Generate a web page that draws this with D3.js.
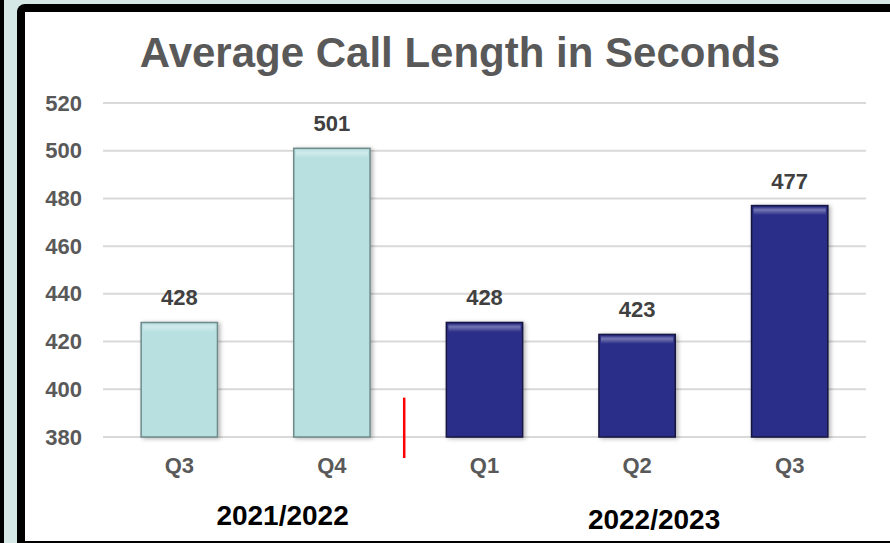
<!DOCTYPE html>
<html>
<head>
<meta charset="utf-8">
<script src="https://cdn.jsdelivr.net/npm/d3@7"></script>
<style>
  html, body { margin: 0; padding: 0; background: #d6e8e6; }
  svg { display: block; font-family: "Liberation Sans", Arial, sans-serif; }
</style>
</head>
<body>
<svg id="chart" width="890" height="543"></svg>
<script>
// chart values
var quarters = ['Q3', 'Q4', 'Q1', 'Q2', 'Q3']
var callSeconds = [428, 501, 428, 423, 477]
var quarterYear = ['2021/2022', '2021/2022', '2022/2023', '2022/2023', '2022/2023']
var years = ['2021/2022', '2022/2023']
var yTicks = [380, 400, 420, 440, 460, 480, 500, 520]

var svg = d3.select('#chart')
var W = 890
var H = 543

// frame: teal page, black strip at left, white panel with black border
svg.append('rect').attr('width', W).attr('height', H).attr('fill', '#d6e8e6')
svg.append('rect').attr('x', 0).attr('y', 0).attr('width', 4).attr('height', H).attr('fill', '#000')
svg.append('rect').attr('x', 17).attr('y', 4).attr('width', 900).attr('height', 560)
  .attr('rx', 8).attr('fill', '#000')
svg.append('rect').attr('x', 25).attr('y', 12).attr('width', 900).attr('height', 529)
  .attr('fill', '#fff')

var defs = svg.append('defs')
var shadow = defs.append('filter').attr('id', 'shadow')
  .attr('x', '-20%').attr('y', '-10%').attr('width', '140%').attr('height', '130%')
shadow.append('feDropShadow').attr('dx', 2).attr('dy', 1).attr('stdDeviation', 2)
  .attr('flood-color', '#000').attr('flood-opacity', 0.3)
var bevel = defs.append('linearGradient').attr('id', 'bevel')
  .attr('x1', 0).attr('y1', 0).attr('x2', 0).attr('y2', 1)
bevel.append('stop').attr('offset', '0%').attr('stop-color', '#fff').attr('stop-opacity', 0.05)
bevel.append('stop').attr('offset', '35%').attr('stop-color', '#fff').attr('stop-opacity', 0.35)
bevel.append('stop').attr('offset', '100%').attr('stop-color', '#fff').attr('stop-opacity', 0)

// plot area (names avoid window.top)
var plotLeft = 103
var plotRight = 866
var plotTop = 103
var plotBottom = 437

var x = d3.scaleBand().domain(d3.range(quarters.length))
  .range([plotLeft, plotRight]).paddingInner(0.5).paddingOuter(0.25)
var y = d3.scaleLinear().domain([380, 520]).range([plotBottom, plotTop])

// title
svg.append('text')
  .attr('x', 460).attr('y', 67)
  .attr('text-anchor', 'middle')
  .attr('font-size', 42).attr('font-weight', 'bold')
  .attr('fill', '#595959')
  .text('Average Call Length in Seconds')

// gridlines
svg.append('g').selectAll('line')
  .data(yTicks)
  .join('line')
  .attr('x1', plotLeft).attr('x2', plotRight)
  .attr('y1', (d) => y(d)).attr('y2', (d) => y(d))
  .attr('stroke', '#d9d9d9').attr('stroke-width', 2)

// y axis labels
var yAxis = d3.axisLeft(y).tickValues(yTicks).tickSize(0).tickPadding(21)
svg.append('g')
  .attr('transform', 'translate(' + plotLeft + ',0)')
  .call(yAxis)
  .call((g) => g.select('.domain').remove())
  .selectAll('text')
  .attr('font-family', '"Liberation Sans", Arial, sans-serif')
  .attr('font-size', 22).attr('font-weight', 'bold')
  .attr('fill', '#595959')

// bars
var fills = { '2021/2022': '#b9e0e1', '2022/2023': '#2c2e88' }
var strokes = { '2021/2022': '#6f8a8a', '2022/2023': '#15153f' }

var bars = svg.append('g').selectAll('g')
  .data(callSeconds)
  .join('g')

bars.append('rect')
  .attr('x', (d, i) => x(i))
  .attr('y', (d) => y(d))
  .attr('width', x.bandwidth())
  .attr('height', (d) => plotBottom - y(d))
  .attr('fill', (d, i) => fills[quarterYear[i]])
  .attr('stroke', (d, i) => strokes[quarterYear[i]])
  .attr('stroke-width', 1.5)
  .attr('filter', 'url(#shadow)')

// top bevel highlight
bars.append('rect')
  .attr('x', (d, i) => x(i) + 2)
  .attr('y', (d) => y(d) + 1.5)
  .attr('width', x.bandwidth() - 4)
  .attr('height', 8)
  .attr('fill', 'url(#bevel)')

// value labels
bars.append('text')
  .attr('x', (d, i) => x(i) + x.bandwidth() / 2)
  .attr('y', (d) => y(d) - 17)
  .attr('text-anchor', 'middle')
  .attr('font-size', 22).attr('font-weight', 'bold')
  .attr('fill', '#404040')
  .text((d) => d)

// quarter labels
var xAxis = d3.axisBottom(x).tickFormat((i) => quarters[i]).tickSize(0).tickPadding(20)
svg.append('g')
  .attr('transform', 'translate(0,' + plotBottom + ')')
  .call(xAxis)
  .call((g) => g.select('.domain').remove())
  .selectAll('text')
  .attr('font-family', '"Liberation Sans", Arial, sans-serif')
  .attr('font-size', 22).attr('font-weight', 'bold')
  .attr('fill', '#595959')

// red divider between the two fiscal years
var divX = (x(1) + x.bandwidth() + x(2)) / 2 - 4
svg.append('line')
  .attr('x1', divX).attr('x2', divX)
  .attr('y1', y(396.5)).attr('y2', plotBottom + 21)
  .attr('stroke', '#ff0000').attr('stroke-width', 2.5)

// fiscal year labels
var yearNudge = [27, 17]
svg.append('g').selectAll('text')
  .data(years)
  .join('text')
  .attr('x', (yr, k) => {
    var idx = d3.range(quarters.length).filter((i) => quarterYear[i] === yr)
    return d3.mean(idx, (i) => x(i) + x.bandwidth() / 2) + yearNudge[k]
  })
  .attr('y', (yr, k) => 525 + k * 4)
  .attr('text-anchor', 'middle')
  .attr('font-size', 28).attr('font-weight', 'bold')
  .attr('fill', '#000')
  .text((yr) => yr)
</script>
</body>
</html>
